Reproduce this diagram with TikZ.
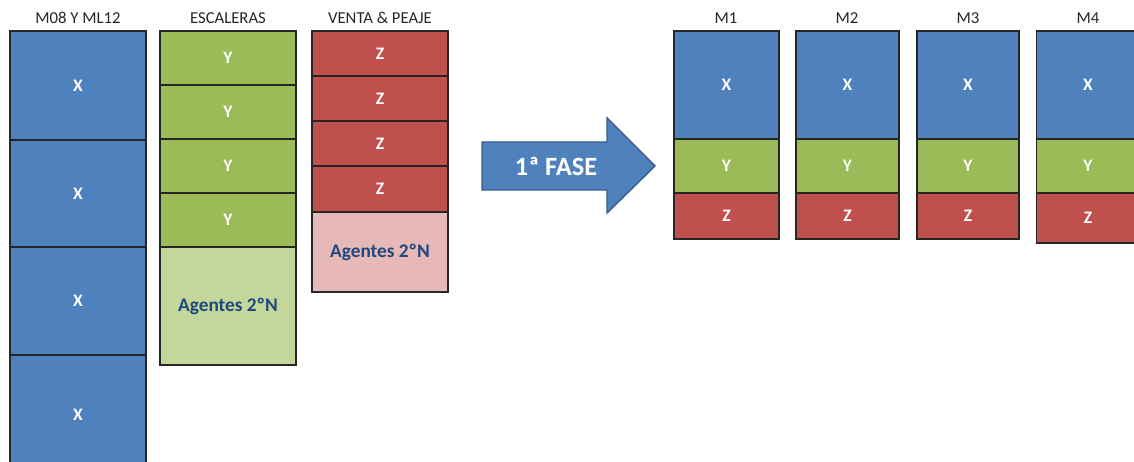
\documentclass[tikz,border=0pt]{standalone}
\usepackage{fontspec}
\setmainfont{Carlito}
\usepackage{tikz}
\usetikzlibrary{positioning}

\definecolor{xblue}{HTML}{4F81BD}
\definecolor{ygreen}{HTML}{9BBB59}
\definecolor{zred}{HTML}{C0504D}
\definecolor{lightgreen}{HTML}{C4D79B}
\definecolor{lightpink}{HTML}{E6B9B8}
\definecolor{agentblue}{HTML}{1F497D}
\definecolor{arrowline}{HTML}{385D8A}

\begin{document}
\begin{tikzpicture}[x=0.02cm, y=-0.02cm,
		block/.style={draw=black!85, line width=0.8pt, inner sep=0pt, text=white, font=\fontsize{10}{11}\selectfont\bfseries},
		xbox/.style={block, fill=xblue},
		ybox/.style={block, fill=ygreen},
		zbox/.style={block, fill=zred},
		agentbox/.style={block, text=agentblue, font=\fontsize{11}{12}\selectfont\bfseries},
		title/.style={text=black!85, font=\fontsize{9.5}{10}\selectfont, inner sep=0pt}
	]
	\useasboundingbox (0,0) rectangle (1134,462);
	\clip (0,0) rectangle (1134,462);

	% M08 Y ML12
	\node[title] (tleft) at (78,18) {M08 Y ML12};
	\node[xbox, minimum width=2.72cm, minimum height=2.18cm] (lx1) at (78,85.5) {X};
	\node[xbox, minimum width=2.72cm, minimum height=2.14cm] (lx2) at (78,193.5) {X};
	\node[xbox, minimum width=2.72cm, minimum height=2.16cm] (lx3) at (78,301) {X};
	\node[xbox, minimum width=2.72cm, minimum height=2.40cm] (lx4) at (78,415) {X};

	% ESCALERAS
	\node[title] (tmid) at (228,18) {ESCALERAS};
	\node[ybox, minimum width=2.72cm, minimum height=1.08cm] (my1) at (228,58) {Y};
	\node[ybox, minimum width=2.72cm, minimum height=1.08cm] (my2) at (228,112) {Y};
	\node[ybox, minimum width=2.72cm, minimum height=1.08cm] (my3) at (228,166) {Y};
	\node[ybox, minimum width=2.72cm, minimum height=1.08cm] (my4) at (228,220) {Y};
	\node[agentbox, fill=lightgreen, minimum width=2.72cm, minimum height=2.36cm] (magent) at (228,306) {Agentes 2ºN};

	% VENTA & PEAJE
	\node[title] (tright) at (380,18) {VENTA \& PEAJE};
	\node[zbox, minimum width=2.72cm, minimum height=0.90cm] (rz1) at (380,53.5) {Z};
	\node[zbox, minimum width=2.72cm, minimum height=0.90cm] (rz2) at (380,98.5) {Z};
	\node[zbox, minimum width=2.72cm, minimum height=0.90cm] (rz3) at (380,143.5) {Z};
	\node[zbox, minimum width=2.72cm, minimum height=0.92cm] (rz4) at (380,189) {Z};
	\node[agentbox, fill=lightpink, minimum width=2.72cm, minimum height=1.60cm] (ragent) at (380,252) {Agentes 2ºN};

	% flecha
	\fill[xblue, draw=arrowline, line width=0.8pt] (482,142) -- (607,142) -- (607,118) -- (655,166)
		-- (607,213) -- (607,190) -- (482,190) -- cycle;
	\node[text=white, font=\fontsize{15}{16}\selectfont\bfseries, inner sep=0pt] (fase) at (556,166) {1ª FASE};

	% M1
	\node[title] (t1) at (726,18) {M1};
	\node[xbox, minimum width=2.10cm, minimum height=2.16cm] (x1) at (726.5,85) {X};
	\node[ybox, minimum width=2.10cm, minimum height=1.08cm] (y1) at (726.5,166) {Y};
	\node[zbox, minimum width=2.10cm, minimum height=0.92cm] (z1) at (726.5,216) {Z};

	% M2
	\node[title] (t2) at (847,18) {M2};
	\node[xbox, minimum width=2.06cm, minimum height=2.16cm] (x2) at (847.5,85) {X};
	\node[ybox, minimum width=2.06cm, minimum height=1.08cm] (y2) at (847.5,166) {Y};
	\node[zbox, minimum width=2.06cm, minimum height=0.92cm] (z2) at (847.5,216) {Z};

	% M3
	\node[title] (t3) at (968,18) {M3};
	\node[xbox, minimum width=2.04cm, minimum height=2.16cm] (x3) at (968,85) {X};
	\node[ybox, minimum width=2.04cm, minimum height=1.08cm] (y3) at (968,166) {Y};
	\node[zbox, minimum width=2.04cm, minimum height=0.92cm] (z3) at (968,216) {Z};

	% M4
	\node[title] (t4) at (1088,18) {M4};
	\node[xbox, minimum width=2.06cm, minimum height=2.16cm] (x4) at (1088,85) {X};
	\node[ybox, minimum width=2.06cm, minimum height=1.08cm] (y4) at (1088,166) {Y};
	\node[zbox, minimum width=2.06cm, minimum height=1.00cm] (z4) at (1088,218) {Z};

\end{tikzpicture}
\end{document}
